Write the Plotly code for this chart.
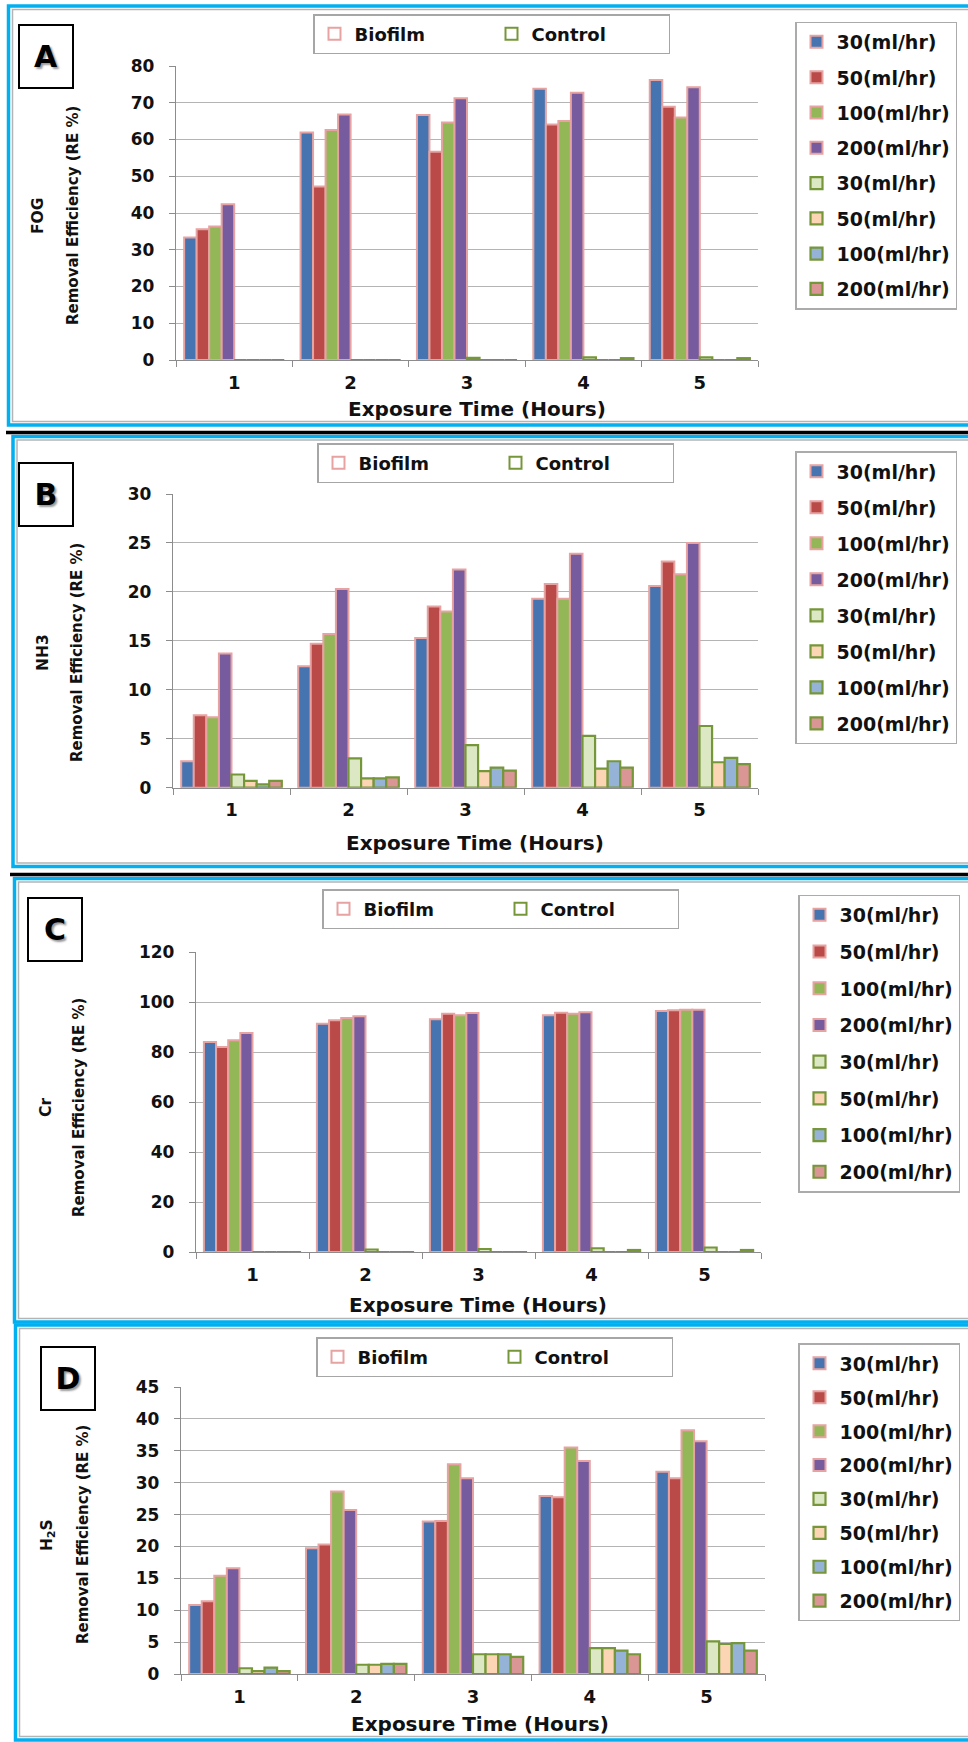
import plotly.graph_objects as go

W, H = 968, 1742


def X(px):
    return px / W


def Y(py):
    return 1 - py / H


FONT = "DejaVu Sans"

hours = ["1", "2", "3", "4", "5"]
rates = ["30(ml/hr)", "50(ml/hr)", "100(ml/hr)", "200(ml/hr)"]

# ---- data (rows: 30, 50, 100, 200 ml/hr ; columns: hours 1..5) ----
fog_biofilm = [
    [33.3, 61.9, 66.7, 73.8, 76.2],
    [35.6, 47.2, 56.7, 64.1, 68.9],
    [36.3, 62.6, 64.6, 65.0, 66.0],
    [42.4, 66.8, 71.2, 72.7, 74.2],
]
fog_control = [
    [0, 0, 0.6, 0.7, 0.7],
    [0, 0, 0, 0, 0],
    [0, 0, 0, 0, 0],
    [0, 0, 0, 0.5, 0.5],
]
nh3_biofilm = [
    [2.7, 12.4, 15.3, 19.3, 20.6],
    [7.4, 14.7, 18.5, 20.8, 23.1],
    [7.2, 15.7, 18.0, 19.3, 21.8],
    [13.7, 20.3, 22.3, 23.9, 25.0],
]
nh3_control = [
    [1.35, 3.0, 4.35, 5.3, 6.3],
    [0.7, 0.95, 1.7, 1.95, 2.6],
    [0.35, 0.95, 2.05, 2.7, 3.05],
    [0.7, 1.05, 1.75, 2.05, 2.4],
]
cr_biofilm = [
    [84.0, 91.3, 93.1, 94.7, 96.4],
    [82.0, 92.7, 95.3, 95.7, 96.7],
    [84.7, 93.6, 94.7, 95.3, 96.9],
    [87.6, 94.3, 95.6, 95.9, 96.9],
]
cr_control = [
    [0, 1.0, 1.2, 1.5, 1.8],
    [0, 0, 0, 0, 0],
    [0, 0, 0, 0, 0],
    [0, 0, 0, 0.8, 0.8],
]
h2s_biofilm = [
    [10.8, 19.7, 23.9, 27.9, 31.7],
    [11.4, 20.3, 24.0, 27.7, 30.7],
    [15.4, 28.6, 32.9, 35.5, 38.2],
    [16.6, 25.7, 30.7, 33.4, 36.5],
]
h2s_control = [
    [0.9, 1.45, 3.1, 4.05, 5.1],
    [0.45, 1.45, 3.1, 4.05, 4.7],
    [1.0, 1.6, 3.1, 3.65, 4.85],
    [0.45, 1.6, 2.7, 3.1, 3.65],
]

bio_fill = ["#4674B0", "#B94A47", "#93B757", "#765C9E"]
ctrl_fill = ["#DCE8C4", "#FCD5B5", "#95B3D7", "#D99694"]
PINK = "#E6A3A1"
GREEN = "#76963A"
CYAN = "#00B0F0"

panels = [
    dict(letter="A", pollutant="FOG", bio=fog_biofilm, ctrl=fog_control, ymax=80, dtick=10,
         plot=(176, 758, 66, 360), box=(46, 57), ylab=(38, 73, 216),
         xt=(477, 409), top=(313, 14), right=(795, 21.5), gap=7.6, frame=(8.5, 6, 425)),
    dict(letter="B", pollutant="NH3", bio=nh3_biofilm, ctrl=nh3_control, ymax=30, dtick=5,
         plot=(173, 758, 494, 787.7), box=(46, 494.5), ylab=(43, 77, 653),
         xt=(475, 843), top=(317, 443), right=(795, 451), gap=8.3, frame=(13, 436.5, 866.5)),
    dict(letter="C", pollutant="Cr", bio=cr_biofilm, ctrl=cr_control, ymax=120, dtick=20,
         plot=(196, 761, 952, 1252), box=(54.5, 929.5), ylab=(46, 79, 1108),
         xt=(478, 1305), top=(322, 889), right=(798, 894.5), gap=9.0, frame=(14.5, 878.5, 1322)),
    dict(letter="D", pollutant="H<sub>2</sub>S", bio=h2s_biofilm, ctrl=h2s_control, ymax=45, dtick=5,
         plot=(181, 765, 1387, 1674), box=(68, 1378), ylab=(48, 83, 1535),
         xt=(480, 1724), top=(316, 1337), right=(798, 1343), gap=6.2, frame=(15.5, 1325, 1740)),
]

fig = go.Figure()
layout = dict(
    width=W, height=H, margin=dict(l=0, r=0, t=0, b=0, pad=0, autoexpand=False),
    autosize=False, paper_bgcolor="white", plot_bgcolor="white",
    barmode="group", bargap=0.14, bargroupgap=0,
    showlegend=True, font=dict(family=FONT, color="#111111"),
)
annotations = []
shapes = []

tick_font_y = dict(family=FONT, size=17, color="#111111", weight="bold")
tick_font_x = dict(family=FONT, size=18, color="#111111", weight="bold")
legend_font = dict(family=FONT, size=19, color="#111111", weight="bold")

for i, p in enumerate(panels):
    n = i + 1
    xa = "x" if n == 1 else f"x{n}"
    ya = "y" if n == 1 else f"y{n}"
    xkey = "xaxis" if n == 1 else f"xaxis{n}"
    ykey = "yaxis" if n == 1 else f"yaxis{n}"
    rlegend = "legend" if n == 1 else f"legend{n}"
    tlegend = f"legend{n + 4}"
    x0, x1, yt, yb = p["plot"]

    for j in range(4):
        fig.add_trace(go.Bar(
            x=hours, y=p["bio"][j], name=rates[j], xaxis=xa, yaxis=ya,
            marker=dict(color=bio_fill[j], line=dict(color=PINK, width=2)),
            legend=rlegend, legendgroup=f"p{n}b{j}",
        ))
    for j in range(4):
        fig.add_trace(go.Bar(
            x=hours, y=p["ctrl"][j], name=rates[j], xaxis=xa, yaxis=ya,
            marker=dict(color=ctrl_fill[j], line=dict(color=GREEN, width=2.2)),
            legend=rlegend, legendgroup=f"p{n}c{j}",
        ))
    # Biofilm / Control key (hollow swatches) on a hidden axis pair
    for nm, col in (("Biofilm", PINK), ("Control", GREEN)):
        fig.add_trace(go.Bar(
            x=[None], y=[None], name=nm, xaxis="x5", yaxis="y5",
            marker=dict(color="white", line=dict(color=col, width=2)),
            legend=tlegend,
        ))

    layout[xkey] = dict(
        domain=[X(x0), X(x1)], anchor=ya, type="category", tickson="boundaries",
        ticks="outside", ticklen=6, tickcolor="#8C8C8C", showline=True,
        linecolor="#8C8C8C", linewidth=1.3, showgrid=False, tickfont=tick_font_x,
        ticklabelstandoff=6, fixedrange=True, automargin=False,
    )
    layout[ykey] = dict(
        domain=[Y(yb), Y(yt)], anchor=xa, range=[0, p["ymax"]], dtick=p["dtick"],
        showgrid=True, gridcolor="#B4B4B4", gridwidth=1.3, showline=True,
        linecolor="#8C8C8C", linewidth=1.3, ticks="outside", ticklen=6,
        tickcolor="#8C8C8C", tickfont=tick_font_y, ticklabelstandoff=11,
        zeroline=False, fixedrange=True, automargin=False,
    )

    rx, ry = p["right"]
    layout[rlegend] = dict(
        x=X(rx), y=Y(ry), xanchor="left", yanchor="top", bgcolor="white",
        bordercolor="#ABABAB", borderwidth=1.5, font=legend_font,
        tracegroupgap=p["gap"], traceorder="grouped",
    )
    tx, ty = p["top"]
    layout[tlegend] = dict(
        x=X(tx), y=Y(ty), xanchor="left", yanchor="top", orientation="h",
        bgcolor="white", bordercolor="#A6A6A6", borderwidth=1.5,
        font=dict(family=FONT, size=18, color="#111111", weight="bold"),
        entrywidth=132, entrywidthmode="pixels",
    )

    bx, by = p["box"]
    annotations.append(dict(
        x=X(bx), y=Y(by), xref="paper", yref="paper", text=f"<b>{p['letter']}</b>",
        showarrow=False, xanchor="center", yanchor="middle",
        font=dict(family=FONT, size=30, color="black", shadow="2px 2px 2px #9a9a9a"),
        bordercolor="black", borderwidth=2, borderpad=0, width=52, height=61,
        bgcolor="white",
    ))
    lx1, lx2, ly = p["ylab"]
    annotations.append(dict(
        x=X(lx1), y=Y(ly), xref="paper", yref="paper", text=f"<b>{p['pollutant']}</b>",
        showarrow=False, textangle=-90, xanchor="center", yanchor="middle",
        font=dict(family=FONT, size=15.5, color="#111111"),
    ))
    annotations.append(dict(
        x=X(lx2), y=Y(ly), xref="paper", yref="paper",
        text="<b>Removal Efficiency (RE %)</b>",
        showarrow=False, textangle=-90, xanchor="center", yanchor="middle",
        font=dict(family=FONT, size=15, color="#111111"),
    ))
    xtx, xty = p["xt"]
    annotations.append(dict(
        x=X(xtx), y=Y(xty), xref="paper", yref="paper",
        text="<b>Exposure Time (Hours)</b>",
        showarrow=False, xanchor="center", yanchor="middle",
        font=dict(family=FONT, size=20, color="#111111"),
    ))

    fx, fy0, fy1 = p["frame"]
    shapes.append(dict(type="rect", xref="paper", yref="paper",
                       x0=X(fx), x1=X(1000), y0=Y(fy1), y1=Y(fy0),
                       line=dict(color=CYAN, width=3.5), layer="below"))
    shapes.append(dict(type="rect", xref="paper", yref="paper",
                       x0=X(fx + 4), x1=X(1000), y0=Y(fy1 - 3.5), y1=Y(fy0 + 3.5),
                       line=dict(color="#B4B4B4", width=1.5), layer="below"))

# black separators between panels
for sx, sy in ((6, 432.5), (10, 874.5)):
    shapes.append(dict(type="line", xref="paper", yref="paper",
                       x0=X(sx), x1=X(1000), y0=Y(sy), y1=Y(sy),
                       line=dict(color="black", width=3.5)))

layout["xaxis5"] = dict(domain=[0, 0.001], visible=False, anchor="y5", fixedrange=True)
layout["yaxis5"] = dict(domain=[0, 0.001], visible=False, anchor="x5", fixedrange=True)
layout["annotations"] = annotations
layout["shapes"] = shapes
fig.update_layout(**layout)

fig.write_html(
    "out.html", config={"displayModeBar": False},
    post_script="document.body.style.margin='0';document.body.style.padding='0';",
)
